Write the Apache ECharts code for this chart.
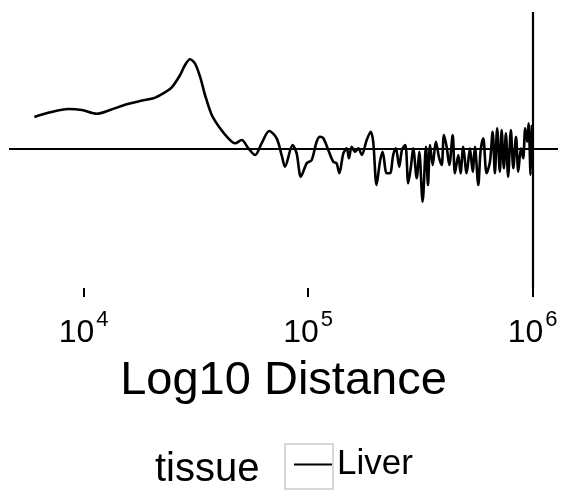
<!DOCTYPE html>
<html>
<head>
<meta charset="utf-8">
<script src="https://cdn.jsdelivr.net/npm/echarts@6/dist/echarts.min.js"></script>
<style>
  html, body { margin: 0; padding: 0; background: #fff; }
  #chart { width: 564px; height: 490px; }
</style>
</head>
<body>
<div id="chart"></div>
<script>
// log10 of distance (x) and the Liver profile value (y)
const logDistance = [
  3.781, 3.851, 3.932, 3.992, 4.059, 4.118, 4.192, 4.252, 4.311, 4.355,
  4.393, 4.430, 4.452, 4.474, 4.496, 4.519, 4.541, 4.571, 4.608, 4.645,
  4.675, 4.704, 4.734, 4.764, 4.793, 4.827, 4.860, 4.884, 4.897, 4.931,
  4.949, 4.968, 4.994, 5.016, 5.038, 5.053, 5.068, 5.090, 5.112, 5.127,
  5.139, 5.157, 5.172, 5.182, 5.194, 5.209, 5.224, 5.239, 5.261, 5.279,
  5.290, 5.305, 5.320, 5.332, 5.350, 5.365, 5.379, 5.391, 5.406, 5.418,
  5.433, 5.446, 5.458, 5.468, 5.484, 5.495, 5.510, 5.525, 5.534, 5.543,
  5.555, 5.569, 5.584, 5.595, 5.605, 5.617, 5.629, 5.644, 5.654, 5.669,
  5.679, 5.691, 5.706, 5.721, 5.733, 5.743, 5.758, 5.768, 5.780, 5.795,
  5.810, 5.822, 5.832, 5.842, 5.854, 5.862, 5.872, 5.881, 5.891, 5.903,
  5.914, 5.926, 5.936, 5.948, 5.958, 5.967, 5.976, 5.982, 5.991, 5.997
];
const liver = [
  0.32, 0.367, 0.40, 0.39, 0.353, 0.39, 0.447, 0.48, 0.507, 0.557,
  0.617, 0.74, 0.84, 0.897, 0.857, 0.723, 0.54, 0.34, 0.207, 0.107,
  0.057, 0.09, 0.007, -0.06, 0.057, 0.18, 0.107, -0.077, -0.177, 0.04,
  -0.043, -0.277, -0.143, -0.11, 0.073, 0.123, 0.107, -0.01, -0.127, -0.143,
  -0.243, -0.043, 0.007, -0.093, 0.023, -0.027, 0.007, -0.06, 0.09, 0.173,
  0.073, -0.36, -0.127, -0.027, -0.243, -0.243, -0.06, 0.007, -0.177, -0.01,
  0.04, -0.343, -0.177, 0.007, -0.293, -0.027, -0.527, 0.023, -0.36, 0.04,
  -0.16, 0.073, -0.093, -0.16, 0.14, 0.023, -0.16, 0.14, -0.243, -0.06,
  -0.243, 0.023, -0.243, 0.007, -0.227, 0.023, -0.36, -0.027, 0.107, -0.243,
  -0.127, 0.173, -0.243, 0.207, -0.227, 0.19, -0.193, 0.157, -0.277, 0.19,
  -0.193, 0.123, -0.227, 0.007, -0.093, 0.207, 0.073, 0.257, -0.26, 0.24
];
const tickExponents = [4, 5, 6];

const chart = echarts.init(document.getElementById('chart'));
const font = 'Liberation Sans, Arial, Helvetica, sans-serif';

const option = {
  animation: false,
  textStyle: { fontFamily: font },
  grid: { left: 9, top: 12, width: 549, height: 276 },
  title: {
    text: 'tissue',
    left: 150,
    top: 445,
    textStyle: { fontFamily: font, fontSize: 40, fontWeight: 'normal', color: '#000' }
  },
  legend: {
    data: ['Liver'],
    left: 289,
    top: 442,
    icon: 'rect',
    itemWidth: 38,
    itemHeight: 2,
    itemGap: 4,
    textStyle: { fontFamily: font, fontSize: 35, color: '#000', padding: [0, 0, 0, 0] }
  },
  graphic: [{
    type: 'rect',
    shape: { x: 285, y: 444, width: 48, height: 45 },
    style: { fill: 'none', stroke: '#cccccc', lineWidth: 1.5 },
    silent: true,
    z: -1
  }],
  xAxis: {
    type: 'value',
    min: 3.668,
    max: 6.113,
    name: 'Log10 Distance',
    nameLocation: 'middle',
    nameGap: 70,
    nameTextStyle: { fontFamily: font, fontSize: 47, color: '#000' },
    axisLine: { show: false, onZero: false },
    splitLine: { show: false },
    axisTick: {
      show: true,
      customValues: tickExponents,
      length: 9,
      lineStyle: { color: '#000', width: 2 }
    },
    axisLabel: {
      customValues: tickExponents,
      margin: 21,
      formatter: v => '{b|10}{s|' + v + '}',
      rich: {
        b: { fontFamily: font, fontSize: 32, color: '#000', lineHeight: 40, verticalAlign: 'bottom' },
        s: { fontFamily: font, fontSize: 22, color: '#000', lineHeight: 22, verticalAlign: 'top', padding: [0, 0, 0, 2] }
      }
    }
  },
  yAxis: {
    type: 'value',
    min: -1.39,
    max: 1.37,
    show: false
  },
  series: [{
    name: 'Liver',
    type: 'line',
    data: logDistance.map((x, i) => [x, liver[i]]),
    symbol: 'none',
    smooth: 0.3,
    lineStyle: { color: '#000', width: 2.6 },
    itemStyle: { color: '#000' },
    markLine: {
      silent: true,
      symbol: 'none',
      label: { show: false },
      lineStyle: { color: '#000', width: 2.2, type: 'solid' },
      data: [{ yAxis: 0 }, { xAxis: 6 }]
    }
  }]
};

chart.setOption(option);
</script>
</body>
</html>
